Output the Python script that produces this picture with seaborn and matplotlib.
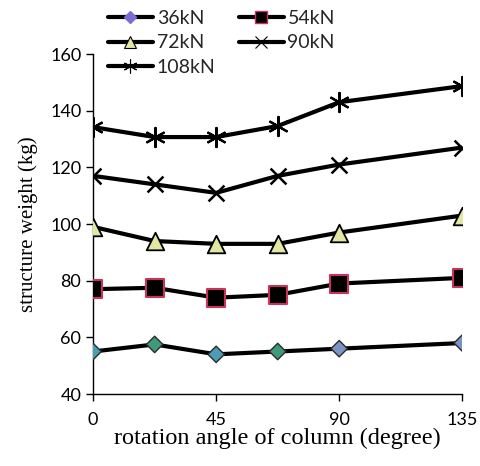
import numpy as np
import pandas as pd
import seaborn as sns
import matplotlib.pyplot as plt
from matplotlib.lines import Line2D

# data
angles = [0, 22.5, 45, 67.5, 90, 135]
w36 = [55, 57.5, 54, 55, 56, 58]
w54 = [77, 77.5, 74, 75, 79, 81]
w72 = [99, 94, 93, 93, 97, 103]
w90 = [117, 114, 111, 117, 121, 127]
w108 = [134.2, 130.7, 130.7, 134.6, 143, 148.7]
loads = ['36kN', '54kN', '72kN', '90kN', '108kN']

df = pd.DataFrame({
    'angle': angles * 5,
    'weight': w36 + w54 + w72 + w90 + w108,
    'load': np.repeat(loads, len(angles)),
})

sns.set_theme(style="white")
plt.rcParams['font.family'] = ['Lato', 'DejaVu Sans']

fig = plt.figure(figsize=(4.8, 4.66), dpi=100)
ax = fig.add_axes([0.194, 0.1545, 0.769, 0.7295])

# lines
sns.lineplot(data=df, x='angle', y='weight', units='load', estimator=None,
             color='black', lw=3, ax=ax, legend=False)

# markers
asterisk = (6, 2, 0)  # six arms, one vertical
diamond_cols = ['#4b9cb5', '#3f9a7c', '#4b9cb5', '#3f9a7c', '#7a94c4', '#7a94c4']
sty = {
    '36kN': dict(marker='D', s=70, edgecolor='#2b2b2b', linewidth=1),
    '54kN': dict(marker='s', s=150, color='black', edgecolor='#c8325c', linewidth=1.5),
    '72kN': dict(marker='^', s=160, color='#e2e8a4', edgecolor='black', linewidth=1.3),
    '90kN': dict(marker='x', s=130, color='black', linewidth=1.8),
    '108kN': dict(marker=asterisk, s=190, color='black', linewidth=1.6),
}
for ld in loads:
    sub = df[df['load'] == ld]
    if ld == '36kN':
        sns.scatterplot(x=sub['angle'], y=sub['weight'], c=diamond_cols,
                        zorder=5, ax=ax, legend=False, **sty[ld])
    else:
        sns.scatterplot(x=sub['angle'], y=sub['weight'], zorder=5, ax=ax,
                        legend=False, **sty[ld])

ax.set_xlim(0, 135)
ax.set_ylim(40, 160)
ax.set_xticks([0, 45, 90, 135])
ax.set_yticks(range(40, 161, 20))
for s in ['top', 'right']:
    ax.spines[s].set_visible(False)
for s in ['left', 'bottom']:
    ax.spines[s].set_color('black')
    ax.spines[s].set_linewidth(1)
ax.tick_params(axis='both', direction='out', length=5, width=1, color='black',
               labelsize=13, labelcolor='black', left=True, bottom=True)
ax.tick_params(axis='x', pad=8)
ax.set_xlabel('rotation angle of column (degree)', family='Liberation Serif',
              fontsize=17.5, color='black', labelpad=0)
ax.set_ylabel('structure weight (kg)', family='Liberation Serif',
              fontsize=15, color='black', labelpad=9)

handles = [
    Line2D([], [], color='black', lw=3, marker='D', ms=6, mfc='#7a6fd0', mec='#7a6fd0'),
    Line2D([], [], color='black', lw=3, marker='s', ms=8, mfc='black', mec='#c8325c'),
    Line2D([], [], color='black', lw=3, marker='^', ms=9, mfc='#e2e8a4', mec='black', mew=0.8),
    Line2D([], [], color='black', lw=3, marker='x', ms=8, mec='black', mew=0.8),
    Line2D([], [], color='black', lw=3, marker=asterisk, ms=10, mec='black', mew=0.8),
]
order = [0, 2, 4, 1, 3]
fig.legend([handles[i] for i in order], [loads[i] for i in order], ncol=2,
           loc='upper left', bbox_to_anchor=(0.205, 1.0), frameon=False,
           fontsize=14, handlelength=2.3, handletextpad=0.2, labelspacing=0.4,
           columnspacing=1.2, borderaxespad=0.1)

fig.savefig('out.png', dpi=100)
